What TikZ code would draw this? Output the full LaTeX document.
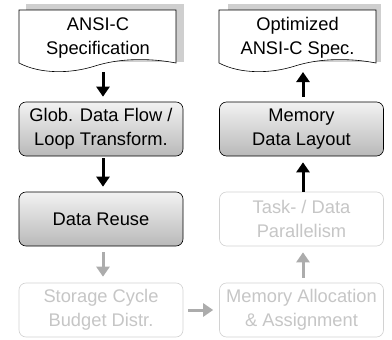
\documentclass[tikz,border=0pt]{standalone}
\usepackage{fontspec}
\setmainfont{Liberation Sans}
\usetikzlibrary{arrows.meta}
\tikzset{
  txt/.style={align=center, font=\fontsize{18.3}{23.5}\selectfont, inner sep=0pt},
  box/.style={txt, draw=black, line width=0.6pt, rounded corners=7pt, top color=gray!10, bottom color=gray!55,
    minimum width=164pt, minimum height=54pt},
  fbox/.style={txt, draw=gray!35, line width=0.6pt, rounded corners=7pt, fill=white,
    minimum width=164pt, minimum height=54pt, text=gray!45},
  arr/.style={line width=3pt, -{Triangle[length=10pt,width=13pt]}},
  farr/.style={arr, draw=gray!65, fill=gray!65},
}
\begin{document}
\begin{tikzpicture}[x=1pt,y=-1pt]
\useasboundingbox (0,0) rectangle (392,340);
% left document
\fill[gray!38] (26,4) rectangle (184,62);
\draw[line width=0.6pt, fill=white] (19,63) -- (19,10) -- (176,10) -- (176,63)
  .. controls (150,58) and (120,58) .. (95,66) .. controls (70,74) and (40,74) .. (19,63) -- cycle;
\node[txt] (spec) at (98,38) {ANSI-C\\Specification};
\coordinate (specb) at (103,72);
% right document
\fill[gray!38] (228,4) rectangle (381,62);
\draw[line width=0.6pt, fill=white] (219,63) -- (219,10) -- (376,10) -- (376,63)
  .. controls (350,58) and (320,58) .. (295,66) .. controls (270,74) and (240,74) .. (219,63) -- cycle;
\node[txt] (ospec) at (297.5,38) {Optimized\\ANSI-C Spec.};
\coordinate (ospecb) at (303,72);
% boxes
\node[box] (glob) at (101,129) {Glob. Data Flow /\\Loop Transform.};
\node[box] (reuse) at (101,219) {Data Reuse};
\node[fbox] (scbd) at (101,310) {Storage Cycle\\Budget Distr.};
\node[box] (mdl) at (301.5,129) {Memory\\Data Layout};
\node[fbox] (tdp) at (301.5,219) {Task- / Data\\Parallelism};
\node[fbox] (maa) at (301.5,310) {Memory Allocation\\\& Assignment};
% arrows
\draw[arr] (specb) -- ([yshift=5pt]glob.north -| specb);
\draw[arr] ([yshift=-2pt]glob.south -| specb) -- ([yshift=5pt]reuse.north -| specb);
\draw[farr] ([yshift=-6pt]reuse.south -| specb) -- ([yshift=6pt]scbd.north -| specb);
\draw[farr] ([xshift=5pt]scbd.east) -- ([xshift=-6pt]maa.west);
\draw[farr] ([yshift=5pt]maa.north -| ospecb) -- ([yshift=-6pt]tdp.south -| ospecb);
\draw[arr] (tdp.north -| ospecb) -- ([yshift=-6pt]mdl.south -| ospecb);
\draw[arr] ([yshift=5pt]mdl.north -| ospecb) -- (ospecb);
\end{tikzpicture}
\end{document}
